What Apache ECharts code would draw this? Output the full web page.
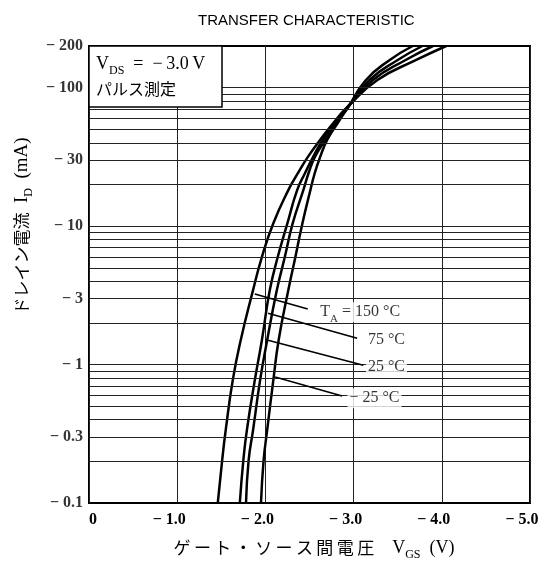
<!DOCTYPE html>
<html>
<head>
<meta charset="utf-8">
<script src="https://cdn.jsdelivr.net/npm/echarts@6/dist/echarts.min.js"></script>
<style>html,body{margin:0;padding:0;background:#fff}#c{width:548px;height:563px}</style>
</head>
<body>
<div id="c"></div>
<script>
// Drain current values (mA, magnitude) shared by all curves
const idValues = [0.1, 0.204, 0.336, 0.772, 1.50, 3.45, 5.98, 10.5, 18.2, 24.2, 31.5, 41.9, 55.6, 72.5, 113.6, 158.5, 200];
// Gate-source voltage (V) for each ambient temperature
const vgs150 = [-1.46, -1.51, -1.55, -1.63, -1.72, -1.86, -1.96, -2.09, -2.26, -2.37, -2.48, -2.62, -2.77, -2.93, -3.27, -3.71, -4.05];
const vgs75  = [-1.71, -1.75, -1.79, -1.88, -1.96, -2.05, -2.14, -2.25, -2.36, -2.45, -2.54, -2.65, -2.79, -2.93, -3.22, -3.59, -3.90];
const vgs25  = [-1.78, -1.81, -1.86, -1.94, -2.02, -2.13, -2.22, -2.31, -2.43, -2.49, -2.56, -2.68, -2.80, -2.94, -3.18, -3.50, -3.78];
const vgsM25 = [-1.95, -1.98, -2.02, -2.09, -2.15, -2.26, -2.34, -2.42, -2.51, -2.56, -2.62, -2.70, -2.82, -2.94, -3.14, -3.41, -3.67];
const seriesNames = ['150', '75', '25', '-25'];

// Axis tick labels / grid
const yTickValues = [0.1, 0.3, 1, 3, 10, 30, 100, 200];
const yGridValues = [0.2,0.3,0.4,0.5,0.6,0.7,0.8,0.9,1,2,3,4,5,6,7,8,9,10,20,30,40,50,60,70,80,90,100];

// Annotation leader lines (tail -> arrow tip) and label anchors
const arrowTails = [[-2.48, 2.52], [-3.04, 1.55], [-3.11, 0.99], [-2.87, 0.592]];
const arrowTips  = [[-1.88, 3.23], [-2.03, 2.35], [-2.03, 1.50], [-2.11, 0.812]];
const labelAnchors = [[-2.60, 2.39], [-3.14, 1.50], [-3.14, 0.959], [-2.93, 0.572]];
const labelTexts = ['{t|T}{s|A}{t| = 150 °C}', '{t|75 °C}', '{t|25 °C}', '{t|− 25 °C}'];

const SERIF = '"Liberation Serif", "DejaVu Serif", serif';
const CJK = '"Noto Sans CJK JP", sans-serif';

function toPairs(xs) { return xs.map((v, i) => [v, idValues[i]]); }
const curveData = [vgs150, vgs75, vgs25, vgsM25];

const chart = echarts.init(document.getElementById('c'));

const series = [];
// horizontal log grid lines
series.push({
  type: 'line', data: [], z: 1, silent: true,
  markLine: {
    silent: true, symbol: ['none', 'none'], animation: false,
    label: { show: false },
    lineStyle: { color: '#222', width: 1, type: 'solid' },
    data: yGridValues.map(v => ({ yAxis: v }))
  }
});
curveData.forEach((xs, i) => {
  series.push({
    name: seriesNames[i], type: 'line', data: toPairs(xs), smooth: 0.5,
    showSymbol: false, symbol: 'none', z: 3,
    lineStyle: { color: '#000', width: 2.5 },
    markLine: {
      silent: true, animation: false, symbol: ['none', 'arrow'], symbolSize: [0, 9],
      label: { show: false },
      lineStyle: { color: '#000', width: 1.6, type: 'solid' },
      data: [[{ coord: arrowTails[i] }, { coord: arrowTips[i] }]]
    }
  });
});
// annotation labels
series.push({
  type: 'scatter', data: labelAnchors, symbolSize: 0, z: 10, silent: true, clip: false,
  label: {
    show: true, position: 'right', distance: 0,
    formatter: p => labelTexts[p.dataIndex],
    backgroundColor: '#fff', padding: [1, 2],
    rich: {
      t: { fontFamily: SERIF, fontSize: 16, color: '#000', lineHeight: 18, verticalAlign: 'middle' },
      s: { fontFamily: SERIF, fontSize: 11, color: '#000', lineHeight: 18, verticalAlign: 'bottom', padding: [0, 0, -3, 0] }
    }
  }
});
// y tick labels
series.push({
  type: 'scatter', data: yTickValues.map(v => [0, v]), symbolSize: 0, z: 10, silent: true, clip: false,
  label: {
    show: true, position: 'left', distance: 6,
    formatter: p => '− ' + p.value[1],
    fontFamily: SERIF, fontSize: 16, fontWeight: 'bold', color: '#000'
  }
});

chart.setOption({
  animation: false,
  backgroundColor: '#fff',
  title: {
    text: 'TRANSFER CHARACTERISTIC', left: 193, top: 8,
    textStyle: { fontFamily: '"Liberation Sans", Arial, sans-serif', fontSize: 15, fontWeight: 'normal', color: '#000' }
  },
  grid: {
    left: 89, right: 18, top: 46, bottom: 60, containLabel: false, outerBoundsMode: 'none',
    show: true, borderColor: '#000', borderWidth: 2, backgroundColor: 'transparent'
  },
  xAxis: {
    type: 'value', min: -5, max: 0, interval: 1, inverse: true,
    axisLine: { show: false }, axisTick: { show: false },
    splitLine: { show: true, lineStyle: { color: '#222', width: 1 } },
    axisLabel: {
      margin: 9, color: '#000', fontFamily: SERIF, fontSize: 16, fontWeight: 'bold',
      formatter: v => v === 0 ? '\u20070' : '− ' + Math.abs(v).toFixed(1) + '\u2007\u2007'
    }
  },
  yAxis: {
    type: 'log', logBase: 10, min: 0.1, max: 200,
    axisLine: { show: false }, axisTick: { show: false },
    axisLabel: { show: false }, splitLine: { show: false }
  },
  graphic: [
    {
      type: 'rect', z: 100, shape: { x: 89, y: 46, width: 133, height: 61 },
      style: { fill: '#fff', stroke: '#000', lineWidth: 1.5 }
    },
    {
      type: 'text', z: 101, x: 96, y: 64,
      style: {
        text: '{t|V}{s|DS}{t|\u2002=\u2002−\u20093.0\u2009V}', verticalAlign: 'middle',
        rich: {
          t: { fontFamily: SERIF, fontSize: 18, fill: '#000', lineHeight: 20, verticalAlign: 'middle' },
          s: { fontFamily: SERIF, fontSize: 12, fill: '#000', lineHeight: 20, verticalAlign: 'bottom', padding: [0, 0, -3, 0] }
        }
      }
    },
    {
      type: 'text', z: 101, x: 96, y: 89,
      style: { text: 'パルス測定', font: '16px ' + CJK, fill: '#000', verticalAlign: 'middle' }
    },
    {
      type: 'text', z: 101, x: 22, y: 226, rotation: Math.PI / 2,
      style: {
        text: '{j|ドレイン電流}{t|  I}{s|D}{t|  (mA)}', align: 'center', verticalAlign: 'middle',
        rich: {
          j: { fontFamily: CJK, fontSize: 17, fill: '#000', lineHeight: 20, verticalAlign: 'middle' },
          t: { fontFamily: SERIF, fontSize: 19, fill: '#000', lineHeight: 20, verticalAlign: 'middle' },
          s: { fontFamily: SERIF, fontSize: 12, fill: '#000', lineHeight: 20, verticalAlign: 'bottom', padding: [0, 0, -3, 0] }
        }
      }
    },
    {
      type: 'text', z: 101, x: 314, y: 548,
      style: {
        text: '{j|ゲ\u2009ー\u2009ト\u2009・\u2009ソ\u2009ー\u2009ス\u2009間\u2009電\u2009圧}{t|\u2003V}{s|GS}{t|\u2002(V)}', align: 'center', verticalAlign: 'middle',
        rich: {
          j: { fontFamily: CJK, fontSize: 17, fill: '#000', lineHeight: 20, verticalAlign: 'middle' },
          t: { fontFamily: SERIF, fontSize: 18, fill: '#000', lineHeight: 20, verticalAlign: 'middle' },
          s: { fontFamily: SERIF, fontSize: 12, fill: '#000', lineHeight: 20, verticalAlign: 'bottom', padding: [0, 0, -3, 0] }
        }
      }
    }
  ],
  series: series
});
</script>
</body>
</html>
